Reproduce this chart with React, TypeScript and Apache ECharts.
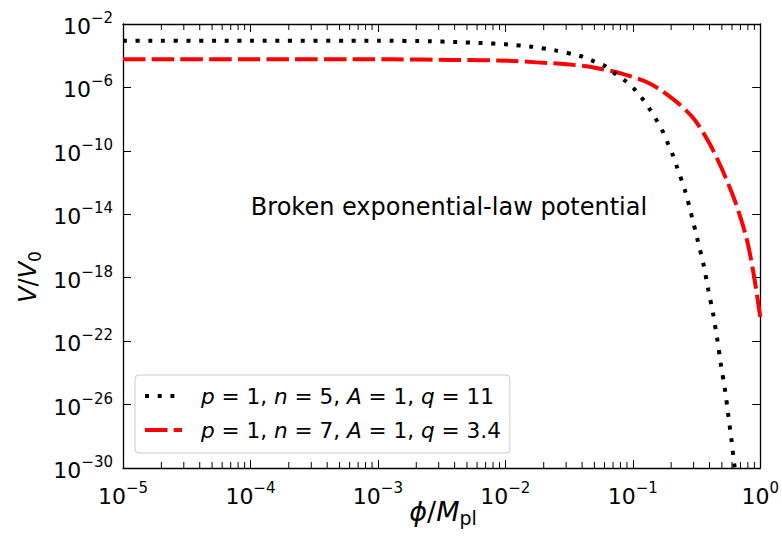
import React, { useEffect, useRef } from "react";
import * as echarts from "echarts";

// ---- data (exponents: log10 of phi/Mpl and of V/V0) ----
const xTickExps = [-5, -4, -3, -2, -1, 0];
const yTickExps = [-30, -26, -22, -18, -14, -10, -6, -2];

const seriesNames = ["p = 1, n = 5, A = 1, q = 11", "p = 1, n = 7, A = 1, q = 3.4"];

const blackLogPhi = [
  -5.0, -4.0, -2.99, -2.59, -2.394, -2.193, -1.998, -1.794, -1.599, -1.411, -1.312, -1.221,
  -1.142, -1.059, -0.986, -0.921, -0.863, -0.811, -0.764, -0.725, -0.686, -0.652, -0.589,
  -0.538, -0.491, -0.444, -0.407, -0.368, -0.336, -0.308, -0.276, -0.25, -0.225, -0.203, -0.19,
];
const blackLogV = [
  -3.05, -3.05, -3.05, -3.09, -3.135, -3.2, -3.28, -3.43, -3.68, -4.02, -4.33, -4.63,
  -5.11, -5.58, -6.12, -6.75, -7.42, -8.1, -8.79, -9.52, -10.26, -11.04, -12.53,
  -14.09, -15.64, -17.2, -18.78, -20.35, -21.93, -23.52, -25.1, -26.7, -28.28, -29.81, -30.5,
];

const redLogPhi = [
  -5.0, -4.0, -2.879, -2.426, -1.98, -1.753, -1.518, -1.307, -1.08, -0.871, -0.681, -0.524,
  -0.399, -0.297, -0.196, -0.107, -0.055, -0.017, 0.0,
];
const redLogV = [
  -4.23, -4.23, -4.23, -4.27, -4.31, -4.42, -4.54, -4.74, -5.15, -5.74, -6.75, -7.95,
  -9.52, -11.21, -13.21, -15.52, -17.62, -19.53, -20.48,
];

const annotationText = "Broken exponential-law potential";
const xTitle = "{i|\u03d5}{r|/}{i|M}{sub|pl}";
const yTitle = "{i|V}{r|/}{i|V}{sub|0}";

// ---- layout / style ----
const W = 782;
const H = 545;
const FONT = "DejaVu Sans";
const Y_BASE = yTickExps[0]; // plotted y = exponent - Y_BASE
const Y_SPAN = yTickExps[yTickExps.length - 1] - Y_BASE;
const MAJOR_LEN = 8;
const MINOR_LEN = 6;

const fmtExp = (n: number) => (n < 0 ? "\u2212" + Math.abs(n) : String(n));

const tickRich = {
  b: { fontFamily: FONT, fontSize: 22, color: "#000", lineHeight: 27, verticalAlign: "bottom" },
  s: { fontFamily: FONT, fontSize: 15, color: "#000", lineHeight: 15, verticalAlign: "top" },
};

const makeNameRich = (fs: number) => ({
  i: { fontFamily: FONT, fontSize: fs, fontStyle: "italic", color: "#000", lineHeight: fs + 6 },
  r: { fontFamily: FONT, fontSize: fs, color: "#000", lineHeight: fs + 6 },
  sub: { fontFamily: FONT, fontSize: Math.round(fs * 0.7), color: "#000", lineHeight: Math.round(fs * 0.7), verticalAlign: "bottom" },
});

export default function App() {
  const ref = useRef<HTMLDivElement>(null);

  useEffect(() => {
    document.body.style.margin = "0";
    const chart = echarts.init(ref.current!, null, { renderer: "svg" });

    const minorTicks: number[][] = [];
    for (let d = xTickExps[0]; d < xTickExps[xTickExps.length - 1]; d++) {
      for (let k = 2; k <= 9; k++) minorTicks.push([d + Math.log10(k), 0]);
    }

    const toPts = (xs: number[], ys: number[]) => xs.map((x, i) => [x, ys[i] - Y_BASE]);

    const commonX = {
      type: "value" as const,
      min: xTickExps[0],
      max: xTickExps[xTickExps.length - 1],
      interval: 1,
      splitLine: { show: false },
      axisLine: { show: true, onZero: false, lineStyle: { color: "#000", width: 1.3 } },
      axisTick: { show: true, inside: true, length: MAJOR_LEN, lineStyle: { color: "#000", width: 1 } },
    };
    const commonY = {
      type: "value" as const,
      min: 0,
      max: Y_SPAN,
      interval: 4,
      splitLine: { show: false },
      axisLine: { show: true, onZero: false, lineStyle: { color: "#000", width: 1.3 } },
      axisTick: { show: true, inside: true, length: MAJOR_LEN, lineStyle: { color: "#000", width: 1 } },
    };

    chart.setOption({
      animation: false,
      backgroundColor: "#fff",
      grid: { left: 123, top: 24, right: 20, bottom: 77, containLabel: false },
      xAxis: [
        {
          ...commonX,
          position: "bottom",
          axisLabel: {
            margin: 12,
            formatter: (v: number) => `{b|10}{s|${fmtExp(Math.round(v))}}`,
            rich: tickRich,
          },
        },
        { ...commonX, position: "top", axisLabel: { show: false } },
      ],
      yAxis: [
        {
          ...commonY,
          position: "left",
          axisLabel: {
            margin: 10,
            formatter: (v: number) => `{b|10}{s|${fmtExp(Math.round(v + Y_BASE))}}`,
            rich: tickRich,
          },
        },
        { ...commonY, position: "right", axisLabel: { show: false } },
      ],
      legend: {
        data: seriesNames,
        left: 135,
        top: 375,
        orient: "vertical",
        itemWidth: 37,
        itemHeight: 14,
        itemGap: 12,
        padding: [10, 9, 12, 8],
        borderColor: "#cccccc",
        borderWidth: 1,
        borderRadius: 4,
        backgroundColor: "#ffffff",
        selectedMode: false,
        lineStyle: { width: 4 },
        itemStyle: { opacity: 0 },
        formatter: (name: string) => "{g| }" + name.replace(/[pnAq]/g, (m) => `{i|${m}}`),
        textStyle: {
          fontFamily: FONT,
          fontSize: 21.6,
          color: "#000",
          rich: {
            g: { width: 14, fontSize: 21.6, fontFamily: FONT },
            i: { fontFamily: FONT, fontSize: 21.6, fontStyle: "italic", color: "#000" },
          },
        },
      },
      graphic: [
        {
          type: "text",
          x: 449,
          y: 207,
          style: {
            text: annotationText,
            fontFamily: FONT,
            fontSize: 24,
            fill: "#000",
            align: "center",
            verticalAlign: "middle",
          },
        },
        {
          type: "text",
          x: 443,
          y: 511,
          style: { text: xTitle, rich: makeNameRich(27), align: "center", verticalAlign: "middle" },
        },
        {
          type: "text",
          x: 28,
          y: 277,
          rotation: Math.PI / 2,
          style: { text: yTitle, rich: makeNameRich(24), align: "center", verticalAlign: "middle" },
        },
      ],
      series: [
        {
          type: "custom",
          name: "minorTicks",
          silent: true,
          clip: false,
          data: minorTicks,
          encode: { x: 0, y: 1 },
          renderItem: (_p: any, api: any) => {
            const x = api.value(0);
            const b = api.coord([x, 0]);
            const t = api.coord([x, Y_SPAN]);
            const st = { stroke: "#000", lineWidth: 1 };
            return {
              type: "group",
              children: [
                { type: "line", shape: { x1: b[0], y1: b[1], x2: b[0], y2: b[1] - MINOR_LEN }, style: st },
                { type: "line", shape: { x1: t[0], y1: t[1], x2: t[0], y2: t[1] + MINOR_LEN }, style: st },
              ],
            };
          },
        },
        {
          type: "line",
          name: seriesNames[1],
          data: toPts(redLogPhi, redLogV),
          symbol: "none",
          showSymbol: false,
          smooth: 0.3,
          z: 3,
          lineStyle: { color: "#ff0000", width: 4, type: [22.5, 6.2], cap: "butt" },
          itemStyle: { color: "#ff0000" },
        },
        {
          type: "line",
          name: seriesNames[0],
          data: toPts(blackLogPhi, blackLogV),
          symbol: "none",
          showSymbol: false,
          smooth: 0.2,
          z: 4,
          lineStyle: { color: "#000000", width: 4, type: [4, 8.7], cap: "butt" },
          itemStyle: { color: "#000000" },
        },
      ],
    });

    return () => chart.dispose();
  }, []);

  return <div ref={ref} style={{ width: W, height: H }} />;
}
